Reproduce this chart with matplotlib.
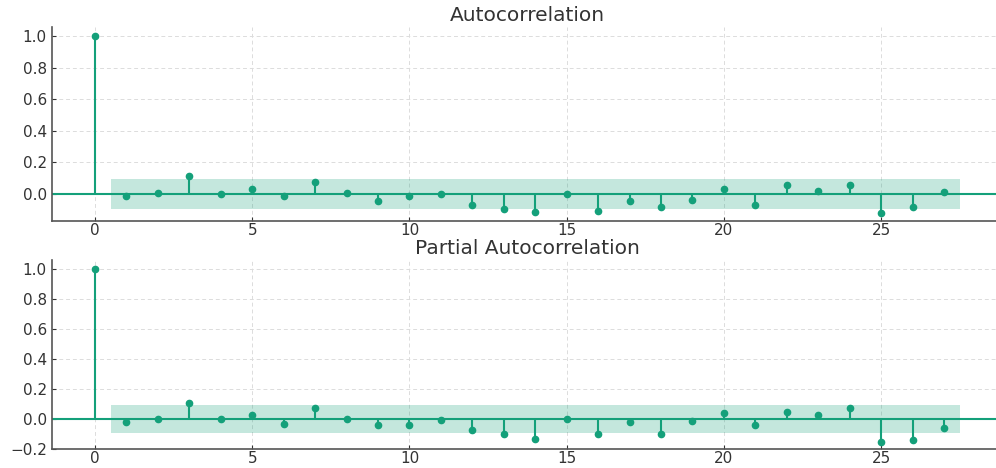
import matplotlib
matplotlib.use("Agg")
import matplotlib.pyplot as plt

lags = list(range(28))

acf_vals = [1.0, -0.017, 0.004, 0.11, -0.002, 0.03, -0.015, 0.076, 0.006, -0.044,
            -0.013, -0.004, -0.07, -0.099, -0.118, -0.004, -0.11, -0.044, -0.082,
            -0.038, 0.032, -0.072, 0.055, 0.019, 0.057, -0.122, -0.086, 0.013]
pacf_vals = [1.0, -0.017, 0.002, 0.11, -0.002, 0.026, -0.033, 0.074, 0.0, -0.041,
             -0.037, -0.007, -0.07, -0.1, -0.135, 0.0, -0.096, -0.022, -0.1,
             -0.013, 0.043, -0.037, 0.046, 0.026, 0.076, -0.154, -0.137, -0.061]
acf_band = 0.095
pacf_band = 0.091

green = '#14a07a'

fig = plt.figure(figsize=(9.96, 4.68), dpi=100)
ax1 = fig.add_axes([0.052, 0.5278, 0.955, 0.4145])
ax2 = fig.add_axes([0.052, 0.04, 0.955, 0.4044])


def draw(ax, vals, band, title, ylim, yticks):
    ax.grid(True, color='#dcdcdc', linestyle=(0, (4, 3)), linewidth=0.7)
    ax.set_axisbelow(True)
    ax.fill_between([0.5, 27.5], -band, band, color=green, alpha=0.25, linewidth=0)
    ax.axhline(0, color=green, linewidth=1.5)
    ax.vlines(lags, 0, vals, color=green, linewidth=1.5)
    ax.plot(lags, vals, 'o', color=green, markersize=4.5)
    ax.set_title(title, fontsize=14.5, color='#333333', pad=4)
    ax.set_xticks([0, 5, 10, 15, 20, 25])
    ax.set_yticks(yticks)
    ax.set_xlim(-1.375, 28.875)
    ax.set_ylim(*ylim)
    ax.tick_params(direction='in', labelsize=11, colors='#333333', length=3)
    ax.tick_params(axis='x', pad=1.5)
    for s in ['top', 'right']:
        ax.spines[s].set_visible(False)
    for s in ['left', 'bottom']:
        ax.spines[s].set_color('#555555')
        ax.spines[s].set_linewidth(1.2)


draw(ax1, acf_vals, acf_band, 'Autocorrelation', (-0.173, 1.057),
     [0.0, 0.2, 0.4, 0.6, 0.8, 1.0])
draw(ax2, pacf_vals, pacf_band, 'Partial Autocorrelation', (-0.2, 1.057),
     [-0.2, 0.0, 0.2, 0.4, 0.6, 0.8, 1.0])

fig.savefig('out.png', dpi=100)
